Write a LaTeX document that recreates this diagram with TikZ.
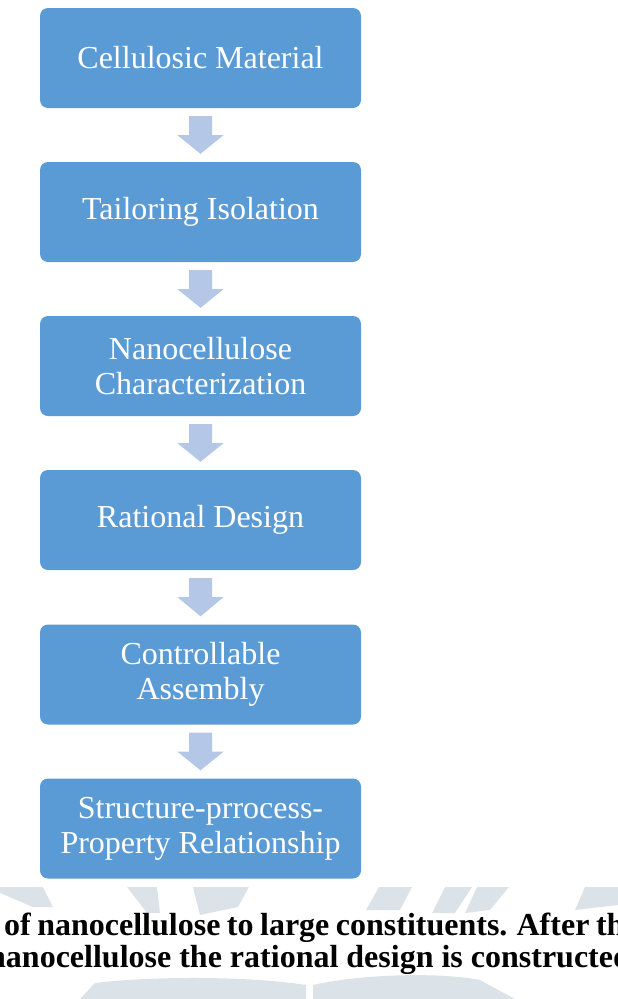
\documentclass[tikz,border=0pt]{standalone}
\usepackage{fontspec}
\setmainfont{Liberation Serif}
\usetikzlibrary{calc,positioning}
\definecolor{xanhhop}{HTML}{5B9BD5}
\definecolor{xanhnhat}{HTML}{B4C7E7}
\definecolor{xammo}{HTML}{DCE3E8}
\tikzset{
	buochop/.style={rectangle,rounded corners=8pt,fill=xanhhop,draw=none,text=white,align=center,
		minimum width=321pt,minimum height=100pt,inner sep=0pt,font=\fontsize{32}{35}\selectfont},
	muiten/.style={fill=xanhnhat,draw=none},
	chuthich/.style={anchor=base west,inner sep=0pt,font=\bfseries\fontsize{32}{32}\selectfont},
	dauchim/.style={fill=xammo,draw=none}
}

\begin{document}
\begin{tikzpicture}[x=1pt,y=-1pt]
			\useasboundingbox (0,0) rectangle (618,999);
			\clip (0,0) rectangle (618,999);
			% cac hop
			\node[buochop] (cellu) at (200.5,58) {Cellulosic Material};
			\node[buochop] (tachchiet) at (200.5,212) {Tailoring Isolation};
			\node[buochop] (dactrung) at (200.5,366) {Nanocellulose\\Characterization};
			\node[buochop] (thietke) at (200.5,520) {Rational Design};
			\node[buochop] (lapghep) at (200.5,674.5) {Controllable\\Assembly};
			\node[buochop] (quanhe) at (200.5,828.5) {Structure-prrocess-\\Property Relationship};
			% mui ten
			\foreach \a/\b in {cellu/tachchiet,tachchiet/dactrung,dactrung/thietke,thietke/lapghep,lapghep/quanhe}
				\fill[muiten] ($(\a.south)+(-11.5,8)$) -- ($(\a.south)+(11.5,8)$) -- ($(\a.south)+(11.5,27)$) -- ($(\a.south)+(23,27)$)
					-- ($(\b.north)+(0,-8)$) -- ($(\a.south)+(-23,27)$) -- ($(\a.south)+(-11.5,27)$) -- cycle;
			% dau chim mo
			\fill[dauchim] (0,887) -- (43,887) -- (53,907) -- (33,907) -- (0,893) -- cycle;
			\fill[dauchim] (127,887) -- (157,887) -- (160,913) -- (147,913) -- cycle;
			\fill[dauchim] (193,887) -- (249,887) -- (238,907) -- (200,915) -- cycle;
			\fill[dauchim] (379,887) -- (412,887) -- (400,910) -- (366,910) -- cycle;
			\fill[dauchim] (445,887) -- (472,887) -- (455,913) -- (432,913) -- cycle;
			\fill[dauchim] (477,887) -- (509,887) -- (490,910) -- (465,913) -- cycle;
			\fill[dauchim] (585,887) -- (618,887) -- (618,905) -- (575,910) -- cycle;
			\fill[dauchim] (80,999) -- (95,983) .. controls (150,976) and (250,976) .. (306,985) -- (306,999) -- cycle;
			\fill[dauchim] (313,999) -- (313,985) .. controls (360,974) and (440,972) .. (480,980) -- (515,999) -- cycle;
			% chu thich
			\node[chuthich] (dong1) at (4,935) {\spaceskip=6.5pt of nanocellulose to large constituents. After the};
			\node[chuthich] (dong2) at (-12,967) {nanocellulose the rational design is constructed};
\end{tikzpicture}
\end{document}
